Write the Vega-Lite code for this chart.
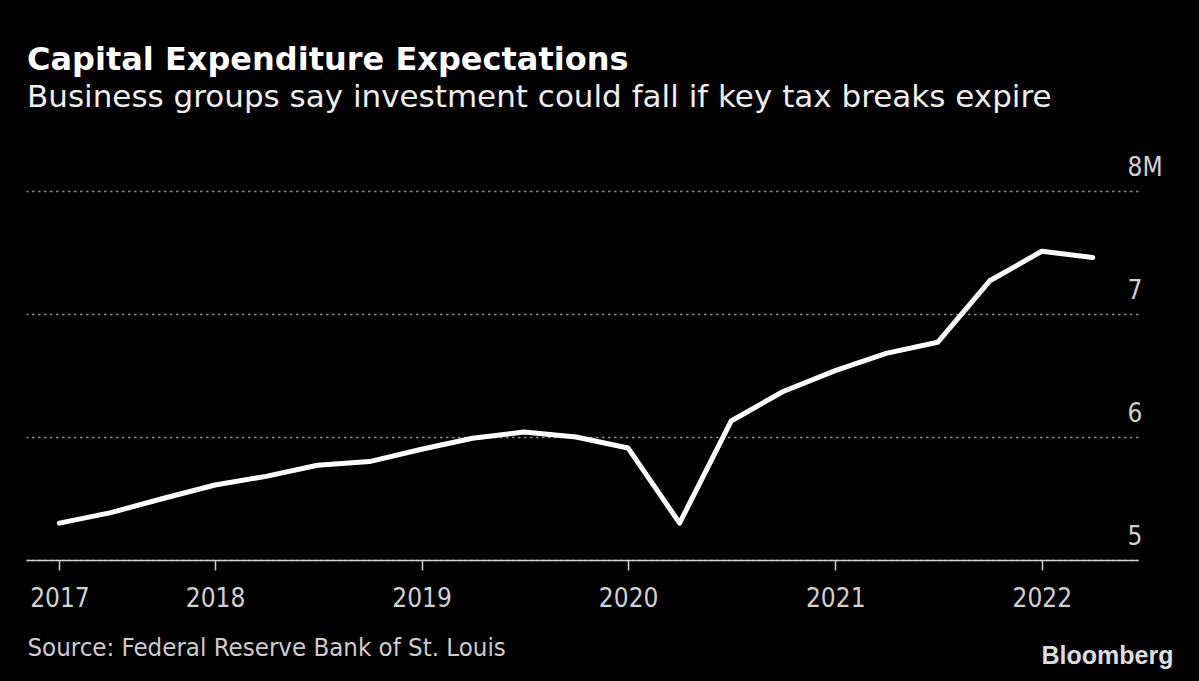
{
  "$schema": "https://vega.github.io/schema/vega-lite/v6.json",
  "autosize": {"type": "none"},
  "width": 1112,
  "height": 369,
  "padding": {"left": 26, "top": 191, "right": 61, "bottom": 121},
  "background": "#000000",
  "title": {
    "text": "Capital Expenditure Expectations",
    "subtitle": "Business groups say investment could fall if key tax breaks expire",
    "anchor": "start",
    "frame": "group",
    "dx": 1,
    "offset": 40,
    "font": "DejaVu Sans",
    "fontSize": 32,
    "fontWeight": "bold",
    "color": "#ffffff",
    "subtitleFont": "DejaVu Sans",
    "subtitleFontSize": 31,
    "subtitleColor": "#eeeeee",
    "subtitlePadding": 6
  },
  "config": {
    "view": {"stroke": null},
    "font": "DejaVu Sans Condensed"
  },
  "data": {
    "values": [
      {"date": "2017-04-01T00:00:00", "value": 5.30},
      {"date": "2017-07-01T00:00:00", "value": 5.385},
      {"date": "2017-10-01T00:00:00", "value": 5.50},
      {"date": "2018-01-01T00:00:00", "value": 5.61},
      {"date": "2018-04-01T00:00:00", "value": 5.68},
      {"date": "2018-07-01T00:00:00", "value": 5.77},
      {"date": "2018-10-01T00:00:00", "value": 5.80},
      {"date": "2019-01-01T00:00:00", "value": 5.90},
      {"date": "2019-04-01T00:00:00", "value": 5.99},
      {"date": "2019-07-01T00:00:00", "value": 6.04},
      {"date": "2019-10-01T00:00:00", "value": 6.00},
      {"date": "2020-01-01T00:00:00", "value": 5.91},
      {"date": "2020-04-01T00:00:00", "value": 5.30},
      {"date": "2020-07-01T00:00:00", "value": 6.13},
      {"date": "2020-10-01T00:00:00", "value": 6.37},
      {"date": "2021-01-01T00:00:00", "value": 6.54},
      {"date": "2021-04-01T00:00:00", "value": 6.68},
      {"date": "2021-07-01T00:00:00", "value": 6.77},
      {"date": "2021-10-01T00:00:00", "value": 7.27},
      {"date": "2022-01-01T00:00:00", "value": 7.51},
      {"date": "2022-04-01T00:00:00", "value": 7.46}
    ]
  },
  "mark": {"type": "line", "color": "#ffffff", "strokeWidth": 5, "strokeCap": "round", "strokeJoin": "round"},
  "encoding": {
    "x": {
      "field": "date",
      "type": "temporal",
      "scale": {"domain": [{"year": 2017, "month": 2, "date": 1}, {"year": 2022, "month": 6, "date": 20}]},
      "axis": {
        "values": [
          {"year": 2017, "month": 4, "date": 1},
          {"year": 2018, "month": 1, "date": 1},
          {"year": 2019, "month": 1, "date": 1},
          {"year": 2020, "month": 1, "date": 1},
          {"year": 2021, "month": 1, "date": 1},
          {"year": 2022, "month": 1, "date": 1}
        ],
        "format": "%Y",
        "grid": false,
        "domainColor": "#d0d0d0",
        "domainWidth": 1.5,
        "tickColor": "#d0d0d0",
        "tickWidth": 1.5,
        "tickSize": 10,
        "labelPadding": 15,
        "labelFont": "DejaVu Sans Condensed",
        "labelFontSize": 26,
        "labelColor": "#d0d0d0",
        "labelFlush": false,
        "labelOverlap": false,
        "title": "Source: Federal Reserve Bank of St. Louis",
        "titleFont": "DejaVu Sans Condensed",
        "titleFontSize": 25.6,
        "titleFontWeight": "normal",
        "titleColor": "#cccccc",
        "titleAnchor": "start",
        "titleAlign": "left",
        "titleBaseline": "alphabetic",
        "titleX": 1,
        "titleY": 95
      }
    },
    "y": {
      "field": "value",
      "type": "quantitative",
      "scale": {"domain": [5, 8], "zero": false},
      "axis": {
        "orient": "right",
        "values": [5, 6, 7, 8],
        "labelExpr": "datum.value == 8 ? '8M' : datum.label",
        "domain": false,
        "ticks": false,
        "grid": true,
        "gridColor": "#8a8a8a",
        "gridWidth": 1.5,
        "gridDash": [2.5, 3.5],
        "labelAlign": "left",
        "labelBaseline": "alphabetic",
        "labelPadding": -11,
        "labelOffset": -16,
        "labelFont": "DejaVu Sans Condensed",
        "labelFontSize": 26,
        "labelColor": "#d0d0d0",
        "title": "Bloomberg",
        "titleFont": "Liberation Sans",
        "titleFontSize": 25,
        "titleFontWeight": "bold",
        "titleColor": "#dddddd",
        "titleAngle": 0,
        "titleAlign": "right",
        "titleBaseline": "alphabetic",
        "titleX": 35,
        "titleY": 472
      }
    }
  }
}
